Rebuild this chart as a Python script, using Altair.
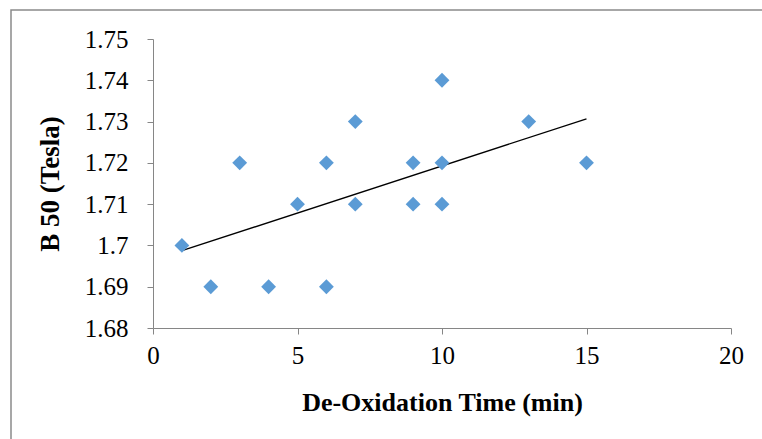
import altair as alt
import pandas as pd

time_min = [1, 2, 3, 4, 5, 6, 6, 7, 7, 9, 9, 10, 10, 10, 13, 15]
b50 = [1.70, 1.69, 1.72, 1.69, 1.71, 1.72, 1.69, 1.73, 1.71, 1.72, 1.71, 1.74, 1.72, 1.71, 1.73, 1.72]

df = pd.DataFrame({"t": time_min, "b": b50})

FONT = "Liberation Serif"
AX = "#868686"

xenc = alt.X("t:Q", scale=alt.Scale(domain=[0, 20], nice=False),
             axis=alt.Axis(values=[0, 5, 10, 15, 20], title="De-Oxidation Time (min)",
                           grid=False, domainColor=AX, tickColor=AX, tickSize=6,
                           labelFlush=False, labelOverlap=False,
                           labelFont=FONT, labelFontSize=25, labelColor="black",
                           labelPadding=9, titleFont=FONT, titleFontSize=26,
                           titleFontWeight="bold", titleColor="black", titlePadding=21))
yenc = alt.Y("b:Q", scale=alt.Scale(domain=[1.68, 1.75], nice=False, zero=False),
             axis=alt.Axis(values=[1.68, 1.69, 1.70, 1.71, 1.72, 1.73, 1.74, 1.75],
                           labelExpr="format(datum.value, '.2~f')",
                           labelFlush=False, labelOverlap=False,
                           title="B 50 (Tesla)", grid=False, domainColor=AX, tickColor=AX,
                           tickSize=6, labelFont=FONT, labelFontSize=25, labelColor="black",
                           labelPadding=19, titleFont=FONT, titleFontSize=27,
                           titleFontWeight="bold", titleColor="black", titlePadding=20))

points = alt.Chart(df).mark_point(shape="diamond", filled=True, color="#5B9BD5",
                                  size=220, opacity=1).encode(x=xenc, y=yenc)

trend = alt.Chart(df).transform_regression("t", "b").mark_line(
    color="black", strokeWidth=1.3).encode(x="t:Q", y="b:Q")

border = alt.Chart(pd.DataFrame({"k": [0]})).mark_rect(
    fill=None, stroke="#8a8a8a", strokeWidth=1.5).encode(
    x=alt.value(-142), x2=alt.value(620), y=alt.value(-29), y2=alt.value(420))

chart = alt.layer(border, trend, points).properties(
    width=578, height=289,
    autosize=alt.AutoSizeParams(type="none"),
    padding={"left": 153, "top": 39, "right": 31, "bottom": 111},
    background="white",
).configure_view(stroke=None)

chart.save("out.html", embed_options={"renderer": "svg", "actions": False})
